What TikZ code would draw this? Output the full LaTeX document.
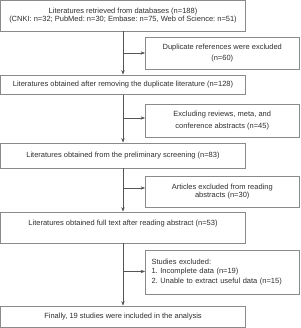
\documentclass[tikz,border=0pt]{standalone}
\usepackage{fontspec}
\setmainfont{Liberation Sans}
\usetikzlibrary{arrows.meta}

\definecolor{boxgray}{HTML}{8A8A8A}
\definecolor{linegray}{HTML}{555555}
\definecolor{textgray}{HTML}{2E2E2E}

\begin{document}
\frenchspacing
\begin{tikzpicture}[x=1pt, y=-1pt, >={Stealth[length=4.5pt, width=3.4pt]}]
% --- Global Styles ---
\tikzstyle{mainbox} = [draw=boxgray, line width=0.8pt, minimum width=245pt, inner sep=0pt, align=center, text=textgray, font=\fontsize{7.5}{8.5}\selectfont]
\tikzstyle{sidebox} = [draw=boxgray, line width=0.8pt, minimum width=153.5pt, inner sep=0pt, align=center, text=textgray, font=\fontsize{7.5}{8.5}\selectfont]
\tikzstyle{trunk} = [->, linegray, line width=0.6pt]
\tikzstyle{branch} = [->, linegray, line width=0.6pt]

% --- Column Centres ---
\def\xm{123}      % main column
\def\xs{222.25}   % side column

\useasboundingbox (0,0) rectangle (300,328);

% ==========================================
% MAIN COLUMN
% ==========================================
\node[mainbox, minimum height=30.5pt] (retrieved) at (\xm, 15.75)
  {Literatures retrieved from databases (n=188)\\(CNKI: n=32; PubMed: n=30; Embase: n=75, Web of Science: n=51)};
\node[mainbox, minimum height=19.5pt] (dedup) at (\xm, 84.75)
  {Literatures obtained after removing the duplicate literature (n=128)};
\node[mainbox, minimum height=25pt] (prelim) at (\xm, 155.5)
  {Literatures obtained from the preliminary screening (n=83)};
\node[mainbox, minimum height=31pt, text height=5.5pt, text depth=9.5pt] (fulltext) at (\xm, 227.5)
  {Literatures obtained full text after reading abstract (n=53)};
\node[mainbox, minimum height=21pt] (final) at (\xm, 316.5)
  {Finally, 19 studies were included in the analysis};

% ==========================================
% SIDE COLUMN (exclusions)
% ==========================================
\node[sidebox, minimum height=32pt] (duplicates) at (\xs, 53)
  {Duplicate references were excluded\\[3pt](n=60)};
\node[sidebox, minimum height=33pt] (reviews) at (\xs, 120.5)
  {Excluding reviews, meta, and\\[3pt]conference abstracts (n=45)};
\node[sidebox, minimum height=31pt] (articles) at (\xs, 191.5)
  {Articles excluded from reading\\abstracts (n=30)};
\node[sidebox, minimum height=44pt, align=left, text width=141.5pt, inner xsep=6pt] (studies) at (\xs, 272)
  {Studies excluded:\\[1.2pt]1. Incomplete data (n=19)\\[1.2pt]2. Unable to extract useful data (n=15)};

% Branch points on the trunk
\coordinate (j1) at (\xm, 53);
\coordinate (j2) at (\xm, 118);
\coordinate (j3) at (\xm, 188);
\coordinate (j4) at (\xm, 271.5);

% ==========================================
% CONNECTORS
% ==========================================
\draw[trunk] (retrieved.south) -- (dedup.north);
\draw[trunk] (dedup.south) -- (prelim.north);
\draw[trunk] (prelim.south) -- (fulltext.north);
\draw[trunk] (fulltext.south) -- (final.north);

\draw[branch] (j1) -- (j1 -| duplicates.west);
\draw[branch] (j2) -- (j2 -| reviews.west);
\draw[branch] (j3) -- (j3 -| articles.west);
\draw[branch] (j4) -- (j4 -| studies.west);

\end{tikzpicture}
\end{document}
